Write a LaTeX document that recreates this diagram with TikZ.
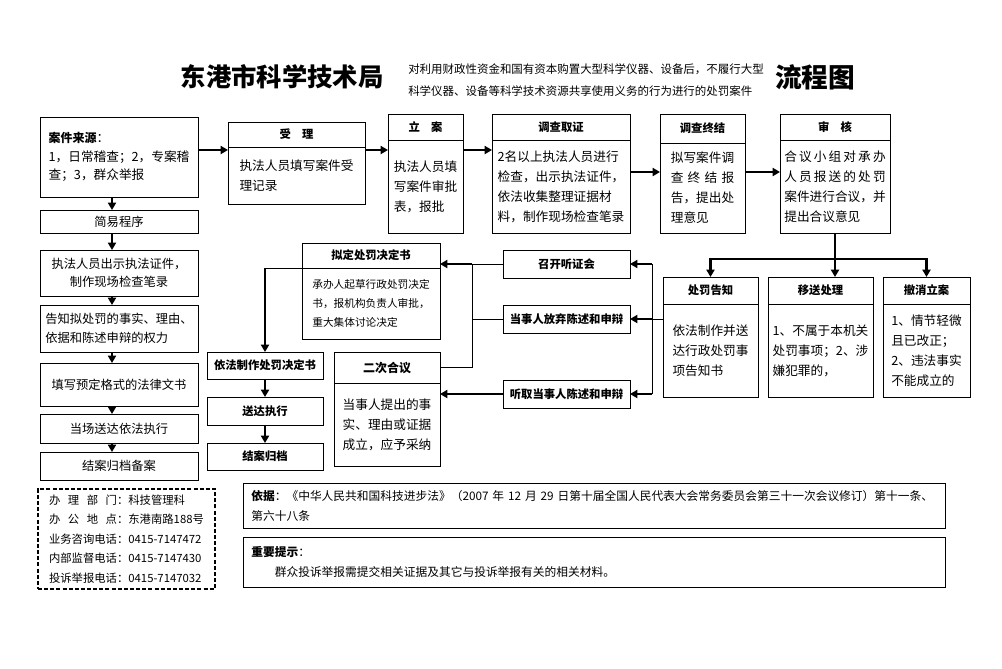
\documentclass[tikz,border=0pt]{standalone}
\usepackage{fontspec}
\setmainfont{Noto Sans CJK SC}
\usetikzlibrary{positioning, arrows.meta, calc}

\begin{document}
\begin{tikzpicture}[
        x=0.75pt, y=-0.75pt,
        font=\fontsize{9.5}{15}\selectfont,
        wh/.style 2 args = {minimum width=#1*0.75pt, minimum height=#2*0.75pt},
        box/.style = {draw, rectangle, line width=0.7pt, inner sep=2pt, outer sep=0pt, align=left},
        head/.style = {box, align=center, font=\fontsize{8.5}{10}\selectfont\bfseries},
        col/.style = {box, wh={158}{#1}, font=\fontsize{9.2}{14}\selectfont},
        hear/.style = {head, wh={127}{28}, anchor=north west},
        note/.style = {box, wh={702}{#1}, text width=514pt, anchor=north west, font=\fontsize{8.8}{15}\selectfont},
        arrow/.style = {-{Triangle[length=5.5pt, width=6pt]}, line width=1.6pt},
        link/.style = {line width=0.7pt}
      ]
      \useasboundingbox (0,0) rectangle (1002,668);

      % ================= 标题 =================
      \node[font=\fontsize{19}{22}\selectfont\bfseries] (title) at (282,77) {东港市科学技术局};
      \node[align=left, font=\fontsize{8.6}{16}\selectfont] (subtitle) at (586,80)
        {对利用财政性资金和国有资本购置大型科学仪器、设备后，不履行大型\\科学仪器、设备等科学技术资源共享使用义务的行为进行的处罚案件};
      \node[font=\fontsize{20}{22}\selectfont\bfseries] (title2) at (815,77) {流程图};

      % ================= 一般程序 =================
      \node[col={80}, anchor=north west, font=\fontsize{9.5}{14}\selectfont] (laiyuan) at (40,117)
        {{\bfseries\small 案件来源}：\\1，日常稽查；2，专案稽\\查；3，群众举报};

      \node[head, wh={137}{25}, anchor=north west] (shouli-h) at (228,122) {受\quad 理};
      \node[box, wh={137}{57}, below=0pt of shouli-h] (shouli) {执法人员填写案件受\\理记录};

      \node[head, wh={75}{26}, anchor=north west] (lian-h) at (388,114) {立\quad 案};
      \node[box, wh={75}{93}, below=0pt of lian-h] (lian) {执法人员填\\写案件审批\\表，报批};

      \node[head, wh={138}{26}, anchor=north west] (diaocha-h) at (492,114) {调查取证};
      \node[box, wh={138}{93}, below=0pt of diaocha-h] (diaocha)
        {2名以上执法人员进行\\检查，出示执法证件，\\依法收集整理证据材\\料，制作现场检查笔录};

      \node[head, wh={85}{29}, anchor=north west] (zhongjie-h) at (660,114) {调查终结};
      \node[box, wh={85}{90}, below=0pt of zhongjie-h] (zhongjie)
        {拟写案件调\\\makebox[5em][s]{查\hfill 终\hfill 结\hfill 报}\\告，提出处\\理意见};

      \node[head, wh={110}{26}, anchor=north west] (shenhe-h) at (780,114) {审\quad 核};
      \node[box, wh={110}{93}, below=0pt of shenhe-h] (shenhe)
        {\makebox[8em][s]{合\hfill 议\hfill 小\hfill 组\hfill 对\hfill 承\hfill 办}\\\makebox[8em][s]{人\hfill 员\hfill 报\hfill 送\hfill 的\hfill 处\hfill 罚}\\案件进行合议，并\\提出合议意见};

      \coordinate (row1) at (0,150);
      \coordinate (row2) at (0,172);
      \draw[arrow] (laiyuan.east |- row1) -- (shouli.west |- row1);
      \draw[arrow] (shouli.east |- row1) -- (lian.west |- row1);
      \draw[arrow] (lian.east |- row1) -- (diaocha.west |- row1);
      \draw[arrow] (diaocha.east |- row2) -- (zhongjie.west |- row2);
      \draw[arrow] (zhongjie.east |- row2) -- (shenhe.west |- row2);

      % 审核结果
      \node[head, wh={95}{27}, anchor=north west] (chufa-h) at (663,277) {处罚告知};
      \node[box, wh={95}{93}, below=0pt of chufa-h] (chufa) {依法制作并送\\达行政处罚事\\项告知书};

      \node[head, wh={105}{27}, anchor=north west] (yisong-h) at (768,277) {移送处理};
      \node[box, wh={105}{93}, below=0pt of yisong-h] (yisong) {1、不属于本机关\\处罚事项；2、涉\\嫌犯罪的，};

      \node[head, wh={87}{27}, anchor=north west] (chexiao-h) at (883,277) {撤消立案};
      \node[box, wh={87}{93}, below=0pt of chexiao-h] (chexiao) {1、情节轻微\\且已改正；\\2、违法事实\\不能成立的};

      \coordinate (branch) at (0,259);
      \draw[arrow] (shenhe.south) -- (shenhe.south |- yisong-h.north);
      \draw[arrow] (shenhe.south |- branch) -| (chufa-h.north);
      \draw[arrow] (shenhe.south |- branch) -| (chexiao-h.north);

      % ================= 听证 / 陈述申辩 =================
      \node[hear] (tingzheng) at (503,250) {召开听证会};
      \node[hear] (fangqi) at (503,305) {当事人放弃陈述和申辩};
      \node[hear] (tingqu) at (503,380) {听取当事人陈述和申辩};

      \coordinate (bus) at (652,0);
      \draw[link] (bus |- tingzheng.east) -- (bus |- tingqu.east);
      \draw[link] (chufa.west |- fangqi.east) -- (bus |- fangqi.east);
      \draw[arrow] (bus |- tingzheng.east) -- (tingzheng.east);
      \draw[arrow] (bus |- fangqi.east) -- (fangqi.east);
      \draw[arrow] (bus |- tingqu.east) -- (tingqu.east);

      \node[head, wh={138}{25}, anchor=north west] (niding-h) at (302,243) {拟定处罚决定书};
      \node[box, wh={138}{71}, below=0pt of niding-h, font=\fontsize{8}{14.3}\selectfont] (niding)
        {承办人起草行政处罚决定\\书，报机构负责人审批，\\重大集体讨论决定};

      \node[head, wh={106}{31}, anchor=north west, font=\fontsize{9}{10}\selectfont\bfseries] (erci-h) at (334,352) {二次合议};
      \node[box, wh={106}{83}, below=0pt of erci-h] (erci) {当事人提出的事\\实、理由或证据\\成立，应予采纳};

      \coordinate (merge) at (472,0);
      \draw[link] (tingzheng.west) -- (merge |- tingzheng.west);
      \draw[link] (fangqi.west) -- (merge |- fangqi.west);
      \draw[link] (erci-h.east) -- (merge |- erci-h.east);
      \draw[link] (merge |- tingzheng.west) -- (merge |- erci-h.east);
      \draw[arrow] (merge |- tingzheng.west) -- (niding-h.east |- tingzheng.west);
      \draw[arrow] (tingqu.west) -- (erci.east |- tingqu.west);

      % 决定书 -> 归档
      \node[head, wh={116}{27}, anchor=north west] (yifa) at (207,352) {依法制作处罚决定书};
      \node[head, wh={116}{28}, below=13.5pt of yifa] (songda) {送达执行};
      \node[head, wh={116}{27}, below=13.5pt of songda] (jiean) {结案归档};

      \draw[link] (niding.north west) -- (yifa.north |- niding.north west);
      \draw[arrow] (yifa.north |- niding.north west) -- (yifa.north);
      \draw[arrow] (yifa.south) -- (songda.north);
      \draw[arrow] (songda.south) -- (jiean.north);

      % ================= 简易程序 =================
      \node[col={23}, anchor=north west, align=center] (jianyi) at (40,210) {简易程序};
      \node[col={46}, anchor=north west, align=center] (chushi) at (40,250) {执法人员出示执法证件，\\制作现场检查笔录};
      \node[col={47}, anchor=north west] (gaozhi) at (40,305) {告知拟处罚的事实、理由、\\依据和陈述申辩的权力};
      \node[col={43}, anchor=north west] (tianxie) at (40,363) {填写预定格式的法律文书};
      \node[col={29}, anchor=north west, align=center] (dangchang) at (40,414) {当场送达依法执行};
      \node[col={28}, anchor=north west, align=center] (beian) at (40,452) {结案归档备案};

      \coordinate (lcol) at (112,0);
      \draw[arrow] (lcol |- laiyuan.south) -- (lcol |- jianyi.north);
      \draw[arrow] (lcol |- jianyi.south) -- (lcol |- chushi.north);
      \draw[arrow] (lcol |- chushi.south) -- (lcol |- gaozhi.north);
      \draw[arrow] (lcol |- gaozhi.south) -- (lcol |- tianxie.north);
      \draw[arrow] (lcol |- tianxie.south) -- (lcol |- dangchang.north);
      \draw[arrow] (lcol |- dangchang.south) -- (lcol |- beian.north);

      % ================= 底部说明 =================
      \node[box, dash pattern=on 3pt off 1.6pt, line width=1.1pt, wh={177}{100}, anchor=north west,
            font=\fontsize{8.5}{14.6}\selectfont] (lianxi) at (38,489)
        {\makebox[6em][s]{办\hfill 理\hfill 部\hfill 门}：科技管理科\\
         \makebox[6em][s]{办\hfill 公\hfill 地\hfill 点}：东港南路188号\\
         业务咨询电话：0415-7147472\\
         内部监督电话：0415-7147430\\
         投诉举报电话：0415-7147032};

      \node[note={45}] (yiju) at (243,483)
        {\textbf{依据}：《中华人民共和国科技进步法》（2007 年 12 月 29 日第十届全国人民代表大会常务委员会第三十一次会议修订）第十一条、\\第六十八条};

      \node[note={50}] (tishi) at (243,537)
        {\textbf{重要提示}：\\\hspace*{2em}群众投诉举报需提交相关证据及其它与投诉举报有关的相关材料。};

    \end{tikzpicture}
\end{document}
